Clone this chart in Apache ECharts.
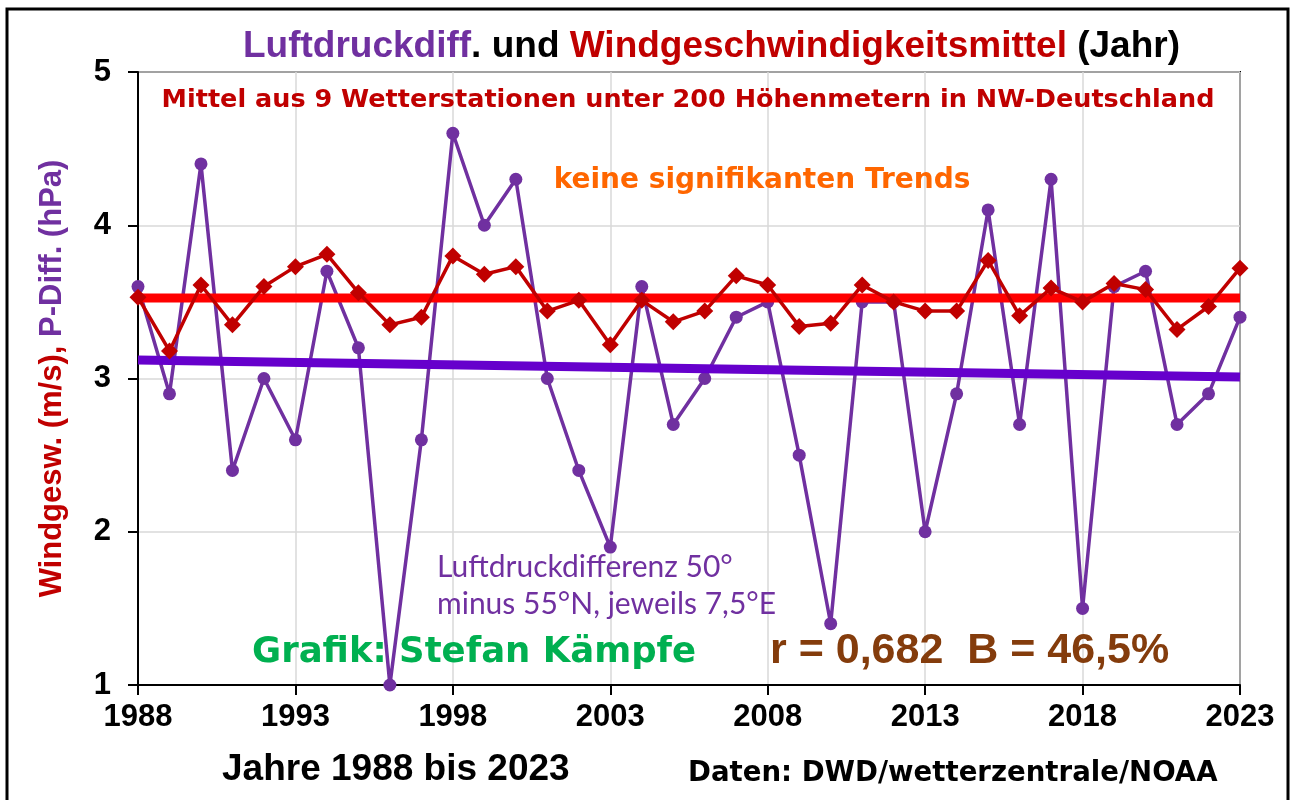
<!DOCTYPE html>
<html>
<head>
<meta charset="utf-8">
<script src="https://cdn.jsdelivr.net/npm/echarts@6/dist/echarts.min.js"></script>
<style>
html,body{margin:0;padding:0;background:#fff;}
#chart{width:1290px;height:800px;}
</style>
</head>
<body>
<div id="chart"></div>
<script>
const years = ['1988','1989','1990','1991','1992','1993','1994','1995','1996','1997','1998','1999','2000','2001','2002','2003','2004','2005','2006','2007','2008','2009','2010','2011','2012','2013','2014','2015','2016','2017','2018','2019','2020','2021','2022','2023'];
const pressureDiff = [3.6,2.9,4.4,2.4,3.0,2.6,3.7,3.2,1.0,2.6,4.6,4.0,4.3,3.0,2.4,1.9,3.6,2.7,3.0,3.4,3.5,2.5,1.4,3.5,3.5,2.0,2.9,4.1,2.7,4.3,1.5,3.6,3.7,2.7,2.9,3.4];
const windSpeed = [3.53,3.18,3.61,3.35,3.60,3.73,3.81,3.56,3.35,3.40,3.80,3.68,3.73,3.44,3.51,3.22,3.51,3.37,3.44,3.67,3.61,3.34,3.36,3.61,3.50,3.44,3.44,3.77,3.41,3.59,3.50,3.62,3.58,3.32,3.47,3.72];
const pressureTrend = [3.12, 3.01];
const windMean = [3.525, 3.525];
const yTicks = [1, 5, 1];

const chart = echarts.init(document.getElementById('chart'));
const first = years[0], last = years[years.length - 1];
chart.setOption({
  backgroundColor: '#fff',
  animation: false,
  grid: {left: 138, right: 50, top: 72, bottom: 115, show: true, borderColor: '#000', borderWidth: 2, backgroundColor: 'transparent'},
  xAxis: {
    type: 'category', data: years, boundaryGap: false,
    axisLine: {lineStyle: {color: '#000', width: 2}},
    axisTick: {show: true, interval: 4, length: 10, inside: false, lineStyle: {color: '#000', width: 2}},
    axisLabel: {interval: 4, margin: 17, color: '#000', fontFamily: 'Liberation Sans', fontWeight: 'bold', fontSize: 31},
    splitLine: {show: true, interval: 4, lineStyle: {color: '#d9d9d9', width: 1.5}}
  },
  yAxis: {
    type: 'value', min: yTicks[0], max: yTicks[1], interval: yTicks[2],
    axisLine: {show: true, lineStyle: {color: '#000', width: 2}},
    axisTick: {show: true, length: 10, lineStyle: {color: '#000', width: 2}},
    axisLabel: {margin: 27, color: '#000', fontFamily: 'Liberation Sans', fontWeight: 'bold', fontSize: 31},
    splitLine: {show: true, lineStyle: {color: '#d9d9d9', width: 1.5}},
    name: '{r|Windgesw. (m/s),} {p|P-Diff. (hPa)}',
    nameLocation: 'middle', nameRotate: 90, nameGap: 70,
    nameTextStyle: {
      fontFamily: 'Liberation Sans', fontWeight: 'bold', fontSize: 31,
      rich: {
        r: {color: '#C00000', fontFamily: 'Liberation Sans', fontWeight: 'bold', fontSize: 31},
        p: {color: '#7030A0', fontFamily: 'Liberation Sans', fontWeight: 'bold', fontSize: 31}
      }
    }
  },
  series: [
    {
      type: 'line', name: 'Luftdruckdifferenz', data: pressureDiff,
      symbol: 'circle', symbolSize: 13,
      lineStyle: {color: '#7030A0', width: 3.5},
      itemStyle: {color: '#7030A0'}, z: 2
    },
    {
      type: 'line', name: 'Trend P', data: [[first, pressureTrend[0]], [last, pressureTrend[1]]],
      symbol: 'none', lineStyle: {color: '#6600CC', width: 9}, z: 3
    },
    {
      type: 'line', name: 'Mittel Wind', data: [[first, windMean[0]], [last, windMean[1]]],
      symbol: 'none', lineStyle: {color: '#FF0000', width: 9}, z: 3
    },
    {
      type: 'line', name: 'Windgeschwindigkeit', data: windSpeed,
      symbol: 'diamond', symbolSize: 17,
      lineStyle: {color: '#C00000', width: 3.5},
      itemStyle: {color: '#C00000'}, z: 4
    }
  ],
  graphic: [
    {type: 'rect', shape: {x: 7, y: 9, width: 1281, height: 800}, style: {fill: 'none', stroke: '#000', lineWidth: 3}, z: 100},
    {type: 'text', x: 243, y: 47, z: 100, style: {
      text: '{p|Luftdruckdiff}{k|. und }{r|Windgeschwindigkeitsmittel}{k| (Jahr)}',
      textVerticalAlign: 'middle', textAlign: 'left',
      rich: {
        p: {fill: '#7030A0', fontFamily: 'Liberation Sans', fontWeight: 'bold', fontSize: 37},
        k: {fill: '#000', fontFamily: 'Liberation Sans', fontWeight: 'bold', fontSize: 37},
        r: {fill: '#C00000', fontFamily: 'Liberation Sans', fontWeight: 'bold', fontSize: 37}
      }
    }},
    {type: 'text', x: 688, y: 100, z: 100, style: {text: 'Mittel aus 9 Wetterstationen unter 200 Höhenmetern in NW-Deutschland', fill: '#C00000', font: 'bold 25.5px "DejaVu Sans"', textAlign: 'center', textVerticalAlign: 'middle'}},
    {type: 'text', x: 762, y: 181, z: 100, style: {text: 'keine signifikanten Trends', fill: '#FF6600', font: 'bold 28px "DejaVu Sans"', textAlign: 'center', textVerticalAlign: 'middle'}},
    {type: 'text', x: 437, y: 567, z: 100, style: {text: 'Luftdruckdifferenz 50°', fill: '#7030A0', font: '30px Lato', textAlign: 'left', textVerticalAlign: 'middle'}},
    {type: 'text', x: 437, y: 604, z: 100, style: {text: 'minus 55°N, jeweils 7,5°E', fill: '#7030A0', font: '30px Lato', textAlign: 'left', textVerticalAlign: 'middle'}},
    {type: 'text', x: 252, y: 653, z: 100, style: {text: 'Grafik: Stefan Kämpfe', fill: '#00B050', font: 'bold 35.5px "DejaVu Sans"', textAlign: 'left', textVerticalAlign: 'middle'}},
    {type: 'text', x: 770, y: 651, z: 100, style: {text: 'r = 0,682  B = 46,5%', fill: '#843C0C', font: 'bold 43px "Liberation Sans"', textAlign: 'left', textVerticalAlign: 'middle'}},
    {type: 'text', x: 222, y: 770, z: 100, style: {text: 'Jahre 1988 bis 2023', fill: '#000', font: 'bold 37px "Liberation Sans"', textAlign: 'left', textVerticalAlign: 'middle'}},
    {type: 'text', x: 688, y: 774, z: 100, style: {text: 'Daten: DWD/wetterzentrale/NOAA', fill: '#000', font: 'bold 27.6px "DejaVu Sans"', textAlign: 'left', textVerticalAlign: 'middle'}}
  ]
});
</script>
</body>
</html>
